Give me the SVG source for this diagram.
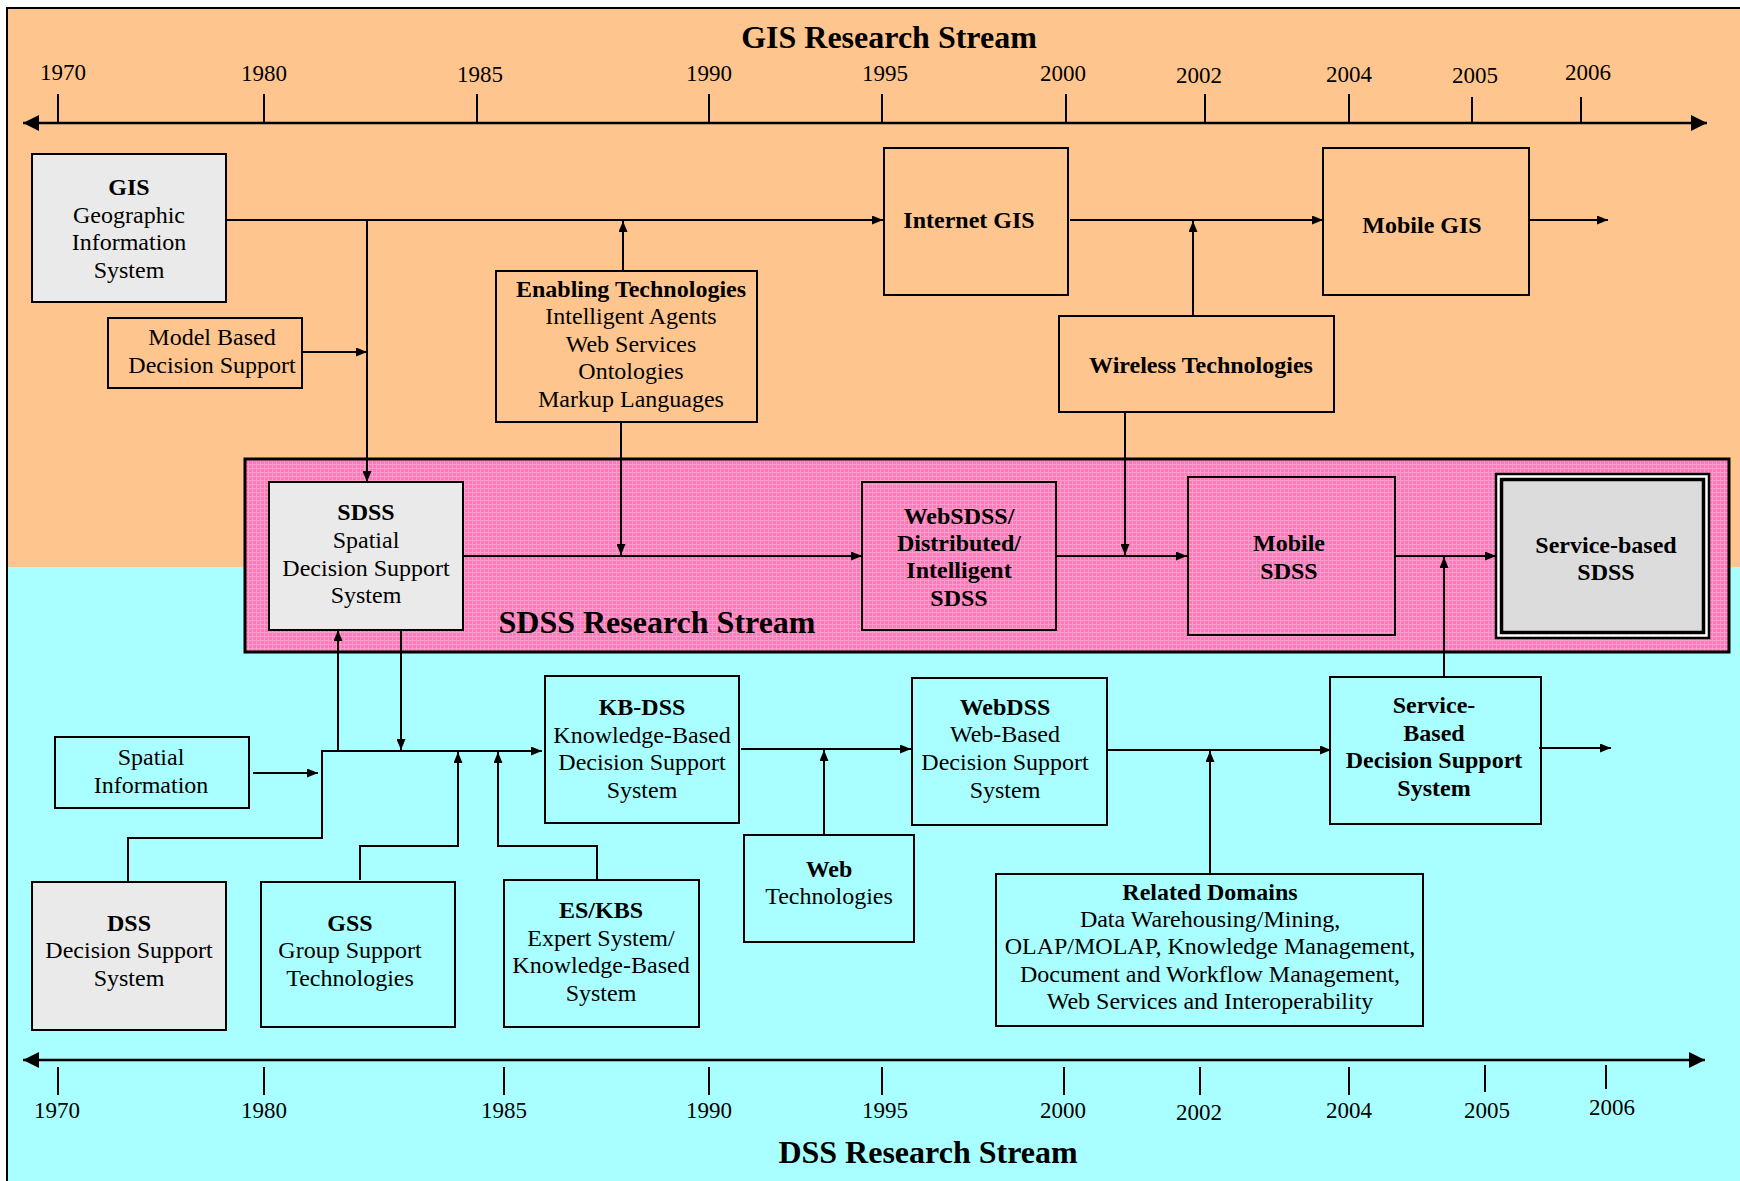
<svg xmlns="http://www.w3.org/2000/svg" width="1740" height="1181" viewBox="0 0 1740 1181">
  <defs>
    <style>
      text { font-family: "Liberation Serif", "Times New Roman", serif; font-size: 24px; fill: #000; text-anchor: middle; }
      .b { font-weight: bold; }
      .title { font-size: 32px; font-weight: bold; }
      .yr { font-size: 23px; }
      .box { fill: none; stroke: #000; stroke-width: 2; }
      .grey { fill: #EAEAEA; stroke: #000; stroke-width: 2; }
      .tick { stroke: #000; stroke-width: 2; }
      .axis { stroke: #000; stroke-width: 2.5; fill: none; marker-start: url(#axisHead); marker-end: url(#axisHead); }
      #connectors path { fill: none; stroke: #000; stroke-width: 2; marker-end: url(#arrow); }
    </style>
    <marker id="arrow" markerUnits="userSpaceOnUse" markerWidth="11" markerHeight="9" refX="11" refY="4.5" orient="auto">
      <path d="M0,0 L11,4.5 L0,9 z" fill="#000"/>
    </marker>
    <marker id="axisHead" markerUnits="userSpaceOnUse" markerWidth="16" markerHeight="16" refX="16" refY="8" orient="auto-start-reverse">
      <path d="M0,0 L16,8 L0,16 z" fill="#000"/>
    </marker>
    <!-- fine cross-hatch used for the SDSS band -->
    <pattern id="hatch" patternUnits="userSpaceOnUse" width="4" height="4">
      <rect width="4" height="4" fill="#FF78B8"/>
      <rect width="4" height="1" fill="#FF9CCB"/>
      <rect width="1" height="4" fill="#FF9CCB"/>
    </pattern>
  </defs>

  <!-- backgrounds -->
  <rect width="1740" height="1181" fill="#fff"/>
  <rect x="7" y="8" width="1733" height="559" fill="#FFC58E"/>
  <rect x="7" y="567" width="1733" height="614" fill="#A9FFFF"/>
  <path d="M7,1181 V8 H1740" fill="none" stroke="#000" stroke-width="2"/>

  <!-- SDSS research stream band -->
  <g id="sdss-band">
    <rect x="245" y="459" width="1484" height="193" fill="url(#hatch)" stroke="#000" stroke-width="3"/>
    <text class="title" x="657" y="633">SDSS Research Stream</text>
  </g>

  <!-- titles -->
  <text class="title" x="889" y="48">GIS Research Stream</text>
  <text class="title" x="928" y="1163">DSS Research Stream</text>

  <!-- top timeline -->
  <g id="timeline-top">
    <path class="axis" d="M23,123 H1707"/>
    <path class="tick" d="M58,94 V122 M264,94 V122 M477,94 V122 M709,94 V122 M882,94 V122 M1066,94 V122 M1205,94 V122 M1349,94 V122 M1472,97 V122 M1581,97 V122"/>
    <text class="yr" x="63" y="80">1970</text>
    <text class="yr" x="264" y="81">1980</text>
    <text class="yr" x="480" y="82">1985</text>
    <text class="yr" x="709" y="81">1990</text>
    <text class="yr" x="885" y="81">1995</text>
    <text class="yr" x="1063" y="81">2000</text>
    <text class="yr" x="1199" y="83">2002</text>
    <text class="yr" x="1349" y="82">2004</text>
    <text class="yr" x="1475" y="83">2005</text>
    <text class="yr" x="1588" y="80">2006</text>
  </g>

  <!-- bottom timeline -->
  <g id="timeline-bottom">
    <path class="axis" d="M23,1060 H1705"/>
    <path class="tick" d="M58,1067 V1095 M264,1067 V1095 M504,1067 V1095 M709,1067 V1095 M882,1067 V1095 M1064,1067 V1095 M1200,1067 V1095 M1349,1067 V1095 M1485,1065 V1092 M1606,1065 V1089"/>
    <text class="yr" x="57" y="1118">1970</text>
    <text class="yr" x="264" y="1118">1980</text>
    <text class="yr" x="504" y="1118">1985</text>
    <text class="yr" x="709" y="1118">1990</text>
    <text class="yr" x="885" y="1118">1995</text>
    <text class="yr" x="1063" y="1118">2000</text>
    <text class="yr" x="1199" y="1120">2002</text>
    <text class="yr" x="1349" y="1118">2004</text>
    <text class="yr" x="1487" y="1118">2005</text>
    <text class="yr" x="1612" y="1115">2006</text>
  </g>

  <!-- connectors -->
  <g id="connectors">
    <path d="M222,220 H883"/>
    <path d="M367,220 V482"/>
    <path d="M302,352 H367"/>
    <path d="M623,271 V221"/>
    <path d="M621,422 V555"/>
    <path d="M1070,220 H1323"/>
    <path d="M1193,316 V221"/>
    <path d="M1125,412 V555"/>
    <path d="M1529,220 H1608"/>
    <path d="M463,556 H862"/>
    <path d="M1056,556 H1187"/>
    <path d="M1395,556 H1496"/>
    <path d="M1444,677 V557"/>
    <path d="M253,773 H318"/>
    <path d="M128,883 V838 H322 V751 H542"/>
    <path d="M338,751 V630"/>
    <path d="M401,630 V750"/>
    <path d="M360,880 V846 H458 V752"/>
    <path d="M597,880 V846 H498 V752"/>
    <path d="M741,749 H911"/>
    <path d="M824,835 V750"/>
    <path d="M1107,750 H1331"/>
    <path d="M1210,874 V751"/>
    <path d="M1539,748 H1611"/>
  </g>

  <!-- GIS stream nodes -->
  <g id="gis">
    <rect class="grey" x="32" y="154" width="194" height="148"/>
    <text class="b" x="129" y="195">GIS</text>
    <text x="129" y="222.5">Geographic</text>
    <text x="129" y="250">Information</text>
    <text x="129" y="277.5">System</text>
  </g>
  <g id="model-based">
    <rect class="box" x="108" y="318" width="194" height="70"/>
    <text x="212" y="345">Model Based</text>
    <text x="212" y="372.5">Decision Support</text>
  </g>
  <g id="enabling-tech">
    <rect class="box" x="496" y="271" width="261" height="151"/>
    <text class="b" x="631" y="296.5">Enabling Technologies</text>
    <text x="631" y="324">Intelligent Agents</text>
    <text x="631" y="351.5">Web Services</text>
    <text x="631" y="379">Ontologies</text>
    <text x="631" y="406.5">Markup Languages</text>
  </g>
  <g id="internet-gis">
    <rect class="box" x="884" y="148" width="184" height="147"/>
    <text class="b" x="969" y="228">Internet GIS</text>
  </g>
  <g id="wireless">
    <rect class="box" x="1059" y="316" width="275" height="96"/>
    <text class="b" x="1201" y="373">Wireless Technologies</text>
  </g>
  <g id="mobile-gis">
    <rect class="box" x="1323" y="148" width="206" height="147"/>
    <text class="b" x="1422" y="233">Mobile GIS</text>
  </g>

  <!-- SDSS stream nodes -->
  <g id="sdss">
    <rect class="grey" x="269" y="482" width="194" height="148"/>
    <text class="b" x="366" y="520">SDSS</text>
    <text x="366" y="547.5">Spatial</text>
    <text x="366" y="575.5">Decision Support</text>
    <text x="366" y="603">System</text>
  </g>
  <g id="websdss">
    <rect class="box" x="862" y="482" width="194" height="148"/>
    <text class="b" x="959" y="524">WebSDSS/</text>
    <text class="b" x="959" y="551">Distributed/</text>
    <text class="b" x="959" y="578">Intelligent</text>
    <text class="b" x="959" y="605.5">SDSS</text>
  </g>
  <g id="mobile-sdss">
    <rect class="box" x="1188" y="477" width="207" height="158"/>
    <text class="b" x="1289" y="551">Mobile</text>
    <text class="b" x="1289" y="579">SDSS</text>
  </g>
  <g id="service-sdss">
    <rect x="1496" y="474" width="213" height="164" fill="#fff" stroke="#000" stroke-width="2.5"/>
    <rect x="1501.5" y="479.5" width="202" height="153" fill="#DCDCDC" stroke="#000" stroke-width="3.5"/>
    <text class="b" x="1606" y="552.5">Service-based</text>
    <text class="b" x="1606" y="580">SDSS</text>
  </g>

  <!-- DSS stream nodes -->
  <g id="spatial-info">
    <rect class="box" x="55" y="737" width="194" height="71"/>
    <text x="151" y="765">Spatial</text>
    <text x="151" y="792.5">Information</text>
  </g>
  <g id="dss">
    <rect class="grey" x="32" y="882" width="194" height="148"/>
    <text class="b" x="129" y="930.5">DSS</text>
    <text x="129" y="958">Decision Support</text>
    <text x="129" y="985.5">System</text>
  </g>
  <g id="gss">
    <rect class="box" x="261" y="882" width="194" height="145"/>
    <text class="b" x="350" y="930.5">GSS</text>
    <text x="350" y="958">Group Support</text>
    <text x="350" y="985.5">Technologies</text>
  </g>
  <g id="es-kbs">
    <rect class="box" x="504" y="880" width="195" height="147"/>
    <text class="b" x="601" y="918">ES/KBS</text>
    <text x="601" y="945.5">Expert System/</text>
    <text x="601" y="973">Knowledge-Based</text>
    <text x="601" y="1000.5">System</text>
  </g>
  <g id="kb-dss">
    <rect class="box" x="545" y="676" width="194" height="147"/>
    <text class="b" x="642" y="715">KB-DSS</text>
    <text x="642" y="742.5">Knowledge-Based</text>
    <text x="642" y="770">Decision Support</text>
    <text x="642" y="797.5">System</text>
  </g>
  <g id="web-tech">
    <rect class="box" x="744" y="835" width="170" height="107"/>
    <text class="b" x="829" y="877">Web</text>
    <text x="829" y="904">Technologies</text>
  </g>
  <g id="webdss">
    <rect class="box" x="912" y="678" width="195" height="147"/>
    <text class="b" x="1005" y="715">WebDSS</text>
    <text x="1005" y="741.5">Web-Based</text>
    <text x="1005" y="770">Decision Support</text>
    <text x="1005" y="797.5">System</text>
  </g>
  <g id="related-domains">
    <rect class="box" x="996" y="874" width="427" height="152"/>
    <text class="b" x="1210" y="900">Related Domains</text>
    <text x="1210" y="926.5">Data Warehousing/Mining,</text>
    <text x="1210" y="954">OLAP/MOLAP, Knowledge Management,</text>
    <text x="1210" y="981.5">Document and Workflow Management,</text>
    <text x="1210" y="1009">Web Services and Interoperability</text>
  </g>
  <g id="service-dss">
    <rect class="box" x="1330" y="677" width="211" height="147"/>
    <text class="b" x="1434" y="712.5">Service-</text>
    <text class="b" x="1434" y="740.5">Based</text>
    <text class="b" x="1434" y="768">Decision Support</text>
    <text class="b" x="1434" y="796">System</text>
  </g>
</svg>
